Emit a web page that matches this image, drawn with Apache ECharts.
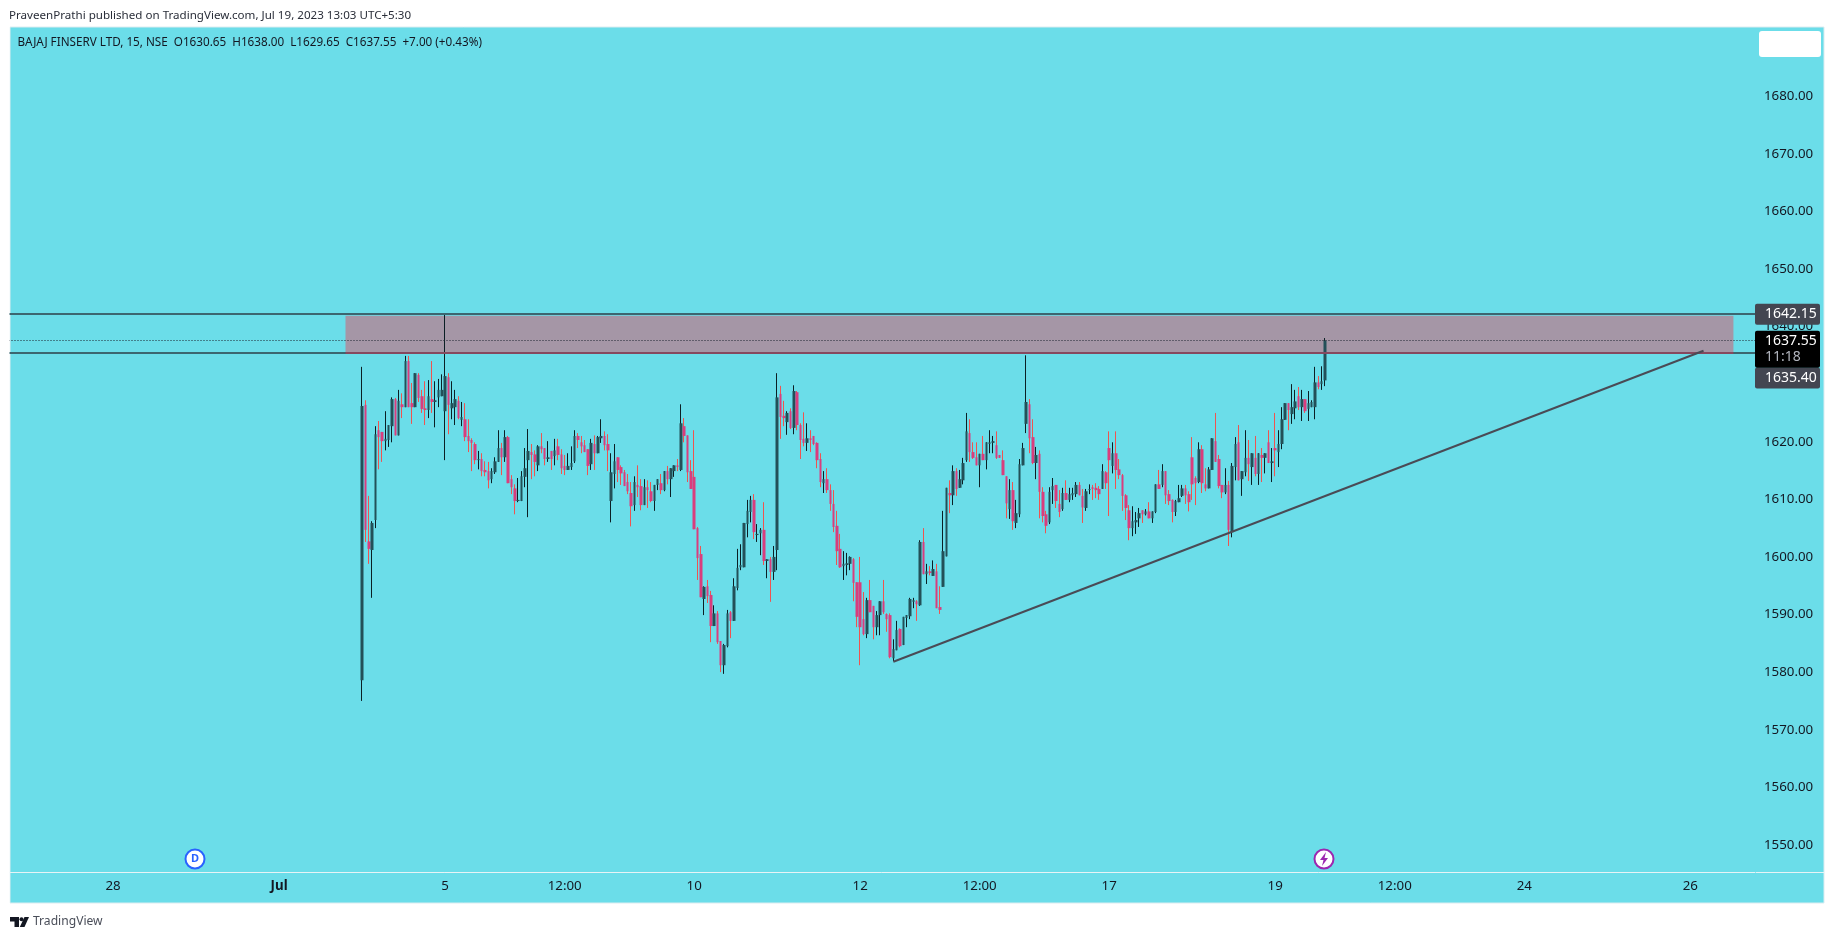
<!DOCTYPE html>
<html>
<head>
<meta charset="utf-8">
<title>BAJAJ FINSERV LTD</title>
<style>
html,body{margin:0;padding:0;background:#fff;}
#mainChart{width:1835px;height:939px;}
</style>
<script src="https://cdn.jsdelivr.net/npm/echarts@6/dist/echarts.min.js"></script>
</head>
<body>
<div id="mainChart"></div>
<script>
var publishText = 'PraveenPrathi published on TradingView.com, Jul 19, 2023 13:03 UTC+5:30';
var legendText = 'BAJAJ FINSERV LTD, 15, NSE  O1630.65  H1638.00  L1629.65  C1637.55  +7.00 (+0.43%)';

// 15 minute bars, 25 per session
var tradingDays = ['Jun 26','Jun 27','Jun 28','Jun 30','Jul 3','Jul 4','Jul 5','Jul 6','Jul 7','Jul 10','Jul 11','Jul 12','Jul 13','Jul 14','Jul 17','Jul 18','Jul 19','Jul 20','Jul 21','Jul 24','Jul 25','Jul 26'];
var firstBar = 'Jul 4 09:15';
var firstCategory = 'Jun 26 14:00';
var lastCategory = 'Jul 26 14:00';

var opens = [
1578.6,1626.4,1602.7,1601.2,1606.4,1622.0,1621.7,1620.1,1620.3,1622.7,
1627.4,1621.1,1626.5,1626.0,1634.0,1626.7,1626.0,1631.6,1627.9,1625.8,
1625.5,1627.4,1626.9,1627.7,1627.9,1625.3,1631.2,1625.8,1626.0,1627.1,
1623.8,1623.9,1621.0,1620.3,1619.6,1616.8,1617.0,1615.1,1614.9,1613.5,
1614.7,1616.5,1618.9,1617.3,1620.8,1613.5,1611.9,1609.7,1609.7,1613.9,
1616.8,1618.2,1617.8,1615.9,1619.2,1618.9,1617.0,1618.4,1617.5,1619.2,
1617.8,1615.8,1615.1,1615.6,1616.6,1621.0,1619.9,1619.4,1618.7,1616.1,
1619.6,1618.0,1620.6,1621.0,1619.6,1609.7,1614.4,1617.3,1615.6,1614.7,
1613.0,1611.1,1609.0,1612.5,1612.3,1609.0,1612.1,1611.4,1609.7,1612.5,
1612.8,1611.6,1614.9,1613.5,1614.9,1615.9,1615.1,1622.7,1621.1,1614.9,
1613.9,1605.0,1600.5,1592.7,1594.9,1593.4,1588.0,1590.2,1585.4,1581.2,
1584.5,1590.4,1588.9,1594.6,1598.2,1598.2,1605.7,1607.8,1609.9,1603.8,
1604.1,1604.7,1599.3,1599.6,1597.4,1601.2,1628.3,1624.5,1623.4,1625.3,
1622.4,1628.6,1622.9,1620.5,1619.8,1620.6,1621.0,1619.8,1617.0,1612.8,
1613.5,1611.6,1609.2,1605.4,1601.4,1598.4,1598.6,1598.8,1599.6,1595.6,
1595.6,1589.2,1586.6,1592.5,1591.5,1587.8,1589.9,1592.3,1590.1,1589.9,
1582.4,1583.8,1587.5,1584.7,1589.4,1589.7,1592.2,1592.3,1591.6,1602.6,
1597.0,1597.5,1596.7,1597.5,1591.3,1594.8,1600.1,1611.1,1610.7,1614.9,
1612.0,1613.3,1616.8,1621.5,1618.2,1617.3,1615.9,1617.9,1616.8,1619.6,
1619.8,1619.4,1617.7,1616.8,1614.0,1608.3,1611.6,1605.9,1607.4,1615.9,
1623.1,1626.5,1620.8,1616.3,1617.9,1611.3,1607.4,1606.0,1611.6,1612.5,
1609.2,1608.3,1611.1,1609.9,1610.7,1610.9,1612.5,1610.6,1608.5,1611.6,
1612.1,1612.0,1611.8,1611.8,1614.7,1618.9,1615.8,1618.0,1615.2,1614.2,
1610.7,1608.1,1605.0,1606.0,1606.7,1608.1,1607.4,1607.9,1606.7,1607.8,
1612.6,1612.5,1614.9,1610.9,1609.9,1607.8,1609.5,1610.6,1611.9,1610.9,
1617.3,1613.7,1613.0,1618.7,1612.6,1611.9,1615.1,1620.1,1617.0,1612.5,
1611.2,1612.5,1604.3,1615.6,1619.9,1613.5,1614.7,1617.2,1615.6,1617.2,
1614.4,1617.7,1617.2,1619.9,1616.3,1618.9,1618.2,1619.6,1623.8,1626.7,
1624.8,1625.8,1627.9,1626.0,1627.4,1625.7,1626.0,1626.0,1630.3,1630.0,
1630.65];

var closes = [
1626.2,1604.7,1601.4,1605.9,1621.3,1620.8,1620.1,1620.5,1622.9,1627.4,
1621.1,1627.1,1626.0,1634.0,1626.0,1626.0,1631.9,1627.6,1625.7,1625.5,
1627.9,1626.9,1627.2,1629.0,1629.0,1631.4,1626.4,1626.7,1627.4,1624.1,
1624.3,1620.8,1620.1,1619.8,1616.8,1617.0,1614.9,1614.7,1613.3,1614.9,
1616.6,1618.9,1617.3,1620.8,1612.8,1612.1,1609.7,1609.9,1614.0,1615.4,
1618.4,1617.7,1616.5,1619.2,1618.7,1617.0,1617.3,1617.0,1618.5,1617.7,
1615.4,1615.1,1615.8,1616.3,1621.0,1620.3,1619.2,1618.2,1615.8,1619.8,
1618.0,1620.8,1621.0,1619.4,1618.5,1614.7,1616.6,1615.1,1614.5,1612.3,
1611.4,1608.8,1613.0,1612.1,1609.0,1612.1,1611.6,1609.7,1612.5,1613.5,
1611.6,1614.9,1613.5,1615.4,1615.9,1615.6,1623.2,1621.0,1614.7,1611.8,
1604.8,1599.8,1593.0,1594.8,1593.2,1588.0,1590.2,1585.2,1581.2,1584.7,
1590.2,1588.9,1594.9,1598.1,1598.6,1605.9,1608.0,1609.9,1604.3,1604.0,
1604.7,1599.3,1599.6,1597.4,1600.0,1627.7,1624.3,1624.1,1625.0,1622.4,
1628.8,1622.9,1620.3,1619.8,1620.6,1620.3,1619.6,1616.8,1613.0,1613.5,
1611.6,1609.2,1605.2,1601.0,1598.2,1598.8,1598.9,1600.0,1595.5,1589.6,
1587.8,1586.6,1592.5,1590.4,1587.8,1589.9,1592.3,1590.4,1589.2,1582.6,
1584.0,1587.3,1584.5,1589.6,1589.9,1592.7,1592.5,1591.8,1602.6,1597.0,
1597.5,1597.2,1597.9,1591.1,1590.8,1601.0,1612.0,1610.7,1614.9,1611.8,
1613.5,1616.3,1621.8,1618.2,1617.2,1615.9,1617.9,1616.8,1619.9,1619.9,
1620.1,1617.2,1617.2,1614.2,1609.3,1611.6,1606.2,1607.6,1616.1,1618.9,
1626.9,1620.6,1616.3,1617.7,1611.3,1607.1,1605.4,1611.3,1612.3,1609.7,
1607.8,1611.1,1609.9,1610.9,1611.1,1612.5,1610.7,1608.6,1611.4,1611.8,
1611.8,1611.6,1610.9,1614.9,1612.8,1616.8,1618.0,1615.1,1614.2,1610.6,
1608.5,1605.0,1606.2,1606.4,1607.6,1607.4,1607.9,1606.7,1607.9,1612.6,
1611.8,1614.9,1610.7,1609.7,1607.8,1609.7,1610.2,1611.9,1610.7,1609.5,
1612.6,1612.8,1618.7,1612.8,1611.9,1615.2,1620.6,1616.5,1612.3,1611.2,
1612.5,1604.7,1615.8,1619.6,1613.3,1614.9,1617.2,1616.1,1618.0,1614.4,
1618.0,1617.2,1618.0,1616.3,1616.6,1618.5,1619.6,1623.9,1626.7,1625.5,
1626.0,1627.0,1626.0,1627.4,1625.3,1626.7,1626.9,1630.3,1629.5,1630.5,
1637.55];

var lows = [
1575.0,1602.6,1598.8,1592.9,1605.0,1615.2,1616.5,1618.5,1619.1,1619.9,
1621.1,1621.1,1624.1,1626.0,1626.0,1623.1,1626.0,1626.9,1625.0,1622.9,
1624.1,1625.0,1622.5,1626.0,1627.9,1616.8,1621.3,1623.9,1622.9,1623.9,
1622.7,1620.1,1618.2,1614.9,1616.1,1615.2,1614.0,1614.0,1611.9,1612.8,
1614.4,1616.5,1614.2,1616.5,1612.8,1610.9,1607.4,1609.5,1609.7,1612.1,
1606.9,1613.5,1614.0,1614.9,1618.0,1615.9,1616.5,1615.1,1615.9,1616.8,
1614.4,1614.2,1615.1,1615.1,1616.3,1618.9,1618.0,1618.2,1614.2,1615.1,
1615.1,1618.0,1619.8,1618.5,1614.9,1606.0,1611.9,1613.0,1612.5,1612.3,
1610.9,1605.3,1608.0,1610.4,1608.1,1609.0,1608.5,1609.5,1608.0,1611.6,
1610.9,1611.4,1612.6,1610.4,1613.9,1614.9,1614.9,1619.9,1613.0,1611.8,
1604.8,1596.0,1593.0,1589.9,1592.0,1585.2,1588.0,1584.9,1580.0,1579.7,
1584.3,1585.9,1588.9,1594.2,1597.7,1598.2,1603.4,1606.0,1603.1,1602.6,
1600.3,1598.6,1596.3,1592.2,1596.0,1597.7,1620.5,1622.7,1621.2,1622.2,
1621.3,1622.0,1617.0,1619.2,1618.4,1618.2,1619.4,1615.4,1612.1,1611.1,
1611.1,1608.0,1604.3,1598.6,1598.1,1596.0,1596.8,1597.7,1592.3,1587.8,
1581.2,1586.4,1585.9,1590.4,1585.7,1586.4,1586.4,1590.1,1587.0,1582.4,
1581.9,1583.8,1584.3,1584.7,1587.8,1589.2,1591.1,1588.9,1591.5,1597.0,
1595.3,1596.8,1596.7,1591.1,1590.1,1594.8,1600.1,1607.6,1609.0,1610.6,
1612.0,1612.6,1616.5,1616.5,1617.0,1615.9,1612.1,1616.8,1615.2,1618.0,
1618.0,1617.0,1617.2,1614.2,1606.7,1606.6,1604.7,1605.0,1606.9,1615.9,
1621.5,1618.0,1616.1,1613.5,1606.7,1606.0,1604.1,1605.7,1609.2,1608.5,
1606.9,1608.0,1609.9,1609.5,1609.9,1610.4,1610.7,1605.9,1608.0,1610.9,
1609.9,1610.2,1609.9,1611.8,1611.8,1607.1,1614.5,1611.8,1613.5,1608.0,
1606.4,1602.9,1603.6,1604.0,1605.2,1605.9,1607.2,1606.7,1605.9,1607.6,
1611.8,1612.1,1609.2,1609.0,1606.0,1607.1,1609.5,1610.4,1609.2,1607.9,
1609.9,1609.0,1612.8,1611.1,1611.4,1611.9,1615.1,1616.5,1611.9,1610.2,
1610.9,1601.9,1603.4,1613.3,1613.3,1610.6,1614.0,1613.2,1612.5,1614.0,
1612.5,1613.0,1614.5,1616.3,1613.0,1614.0,1615.6,1618.7,1623.8,1622.0,
1623.1,1623.9,1625.5,1623.6,1625.0,1623.6,1626.0,1623.9,1629.1,1629.0,
1629.65];

var highs = [
1633.0,1627.2,1610.6,1606.2,1622.7,1623.6,1621.7,1625.3,1622.9,1627.7,
1627.6,1629.0,1628.4,1634.9,1634.9,1630.2,1631.9,1631.9,1629.0,1630.5,
1630.7,1634.0,1630.5,1630.9,1631.7,1642.0,1631.9,1630.5,1629.0,1627.9,
1626.9,1626.7,1623.9,1620.6,1619.9,1618.4,1618.0,1616.6,1616.5,1615.4,
1617.3,1622.0,1619.8,1622.0,1621.0,1614.2,1612.6,1613.7,1614.9,1618.9,
1622.2,1619.6,1618.5,1619.4,1621.5,1618.9,1620.1,1618.4,1620.5,1620.5,
1618.7,1617.7,1618.0,1619.2,1622.0,1621.5,1621.0,1620.3,1618.7,1620.5,
1621.1,1621.0,1623.9,1621.8,1621.3,1618.0,1619.6,1617.3,1615.9,1615.1,
1614.4,1613.0,1614.0,1615.9,1613.5,1613.5,1613.3,1613.0,1612.5,1613.5,
1614.4,1614.9,1615.8,1615.4,1615.9,1617.0,1626.5,1624.1,1621.1,1616.8,
1622.0,1605.2,1601.9,1594.9,1596.0,1594.1,1591.6,1590.6,1585.4,1584.9,
1590.8,1590.6,1596.3,1601.4,1602.2,1605.9,1609.9,1610.6,1610.9,1605.7,
1605.0,1609.5,1599.6,1600.0,1601.9,1631.9,1629.7,1627.1,1625.3,1625.8,
1629.8,1628.8,1623.2,1625.1,1623.2,1622.0,1621.0,1619.9,1618.0,1614.9,
1615.4,1612.6,1611.6,1608.0,1604.0,1601.0,1600.7,1600.1,1599.8,1595.6,
1600.0,1593.9,1592.9,1596.0,1591.5,1590.6,1592.3,1596.0,1590.2,1590.2,
1585.7,1588.9,1587.6,1589.6,1589.9,1592.9,1592.9,1592.5,1602.9,1605.0,
1598.8,1598.4,1599.4,1598.8,1594.9,1608.0,1612.0,1613.3,1615.9,1615.4,
1615.1,1617.2,1625.0,1623.9,1619.9,1619.9,1617.9,1621.0,1619.9,1622.0,
1621.0,1621.8,1617.7,1618.5,1614.0,1613.5,1613.0,1609.9,1617.0,1619.8,
1635.0,1627.4,1623.9,1619.1,1618.5,1612.1,1608.0,1612.1,1613.7,1612.5,
1611.6,1612.0,1613.3,1612.0,1612.0,1613.0,1613.0,1611.8,1611.8,1612.6,
1612.5,1612.8,1612.3,1616.1,1614.9,1621.8,1619.9,1621.8,1617.0,1614.4,
1610.9,1609.0,1608.8,1607.8,1608.5,1608.1,1608.3,1609.5,1607.9,1612.6,
1615.1,1616.1,1614.9,1611.6,1610.0,1609.9,1612.5,1612.5,1612.5,1611.4,
1620.8,1614.0,1619.9,1619.4,1615.4,1615.6,1620.6,1625.0,1617.7,1612.5,
1615.4,1613.2,1616.3,1620.8,1622.9,1614.9,1622.0,1620.3,1618.0,1621.0,
1618.0,1618.9,1618.0,1622.0,1618.9,1625.0,1622.0,1626.0,1626.7,1626.7,
1630.0,1629.0,1629.5,1629.0,1627.4,1628.8,1627.2,1633.0,1631.4,1633.1,
1638.0];

var yTicks = [1550,1560,1570,1580,1590,1600,1610,1620,1630,1640,1650,1660,1670,1680];
var xTickCategories = ['Jun 28 09:15','Jul 3 09:15','Jul 5 09:15','Jul 6 12:00','Jul 10 09:15','Jul 12 09:15','Jul 13 12:00','Jul 17 09:15','Jul 19 09:15','Jul 20 12:00','Jul 24 09:15','Jul 26 09:15'];
var xTickLabels = ['28','Jul','5','12:00','10','12','12:00','17','19','12:00','24','26'];

var zoneTop = 1642.15;
var zoneFillTop = 1641.85;
var zoneBottom = 1635.40;
var lastPrice = 1637.55;
var countdown = '11:18';
var zoneStart = 'Jul 3 14:15';
var zoneEnd = 'Jul 26 12:30';
var trendStart = ['Jul 12 11:45', 1581.8];
var trendEnd = ['Jul 26 10:15', 1635.8];

var fontName = '"Noto Sans", sans-serif';

function buildCategories() {
    var all = [];
    for (var d = 0; d < tradingDays.length; d++) {
        for (var s = 0; s < 25; s++) {
            var mins = 9 * 60 + 15 + s * 15;
            var hh = Math.floor(mins / 60);
            var mm = mins % 60;
            all.push(tradingDays[d] + ' ' + (hh < 10 ? '0' + hh : hh) + ':' + (mm < 10 ? '0' + mm : mm));
        }
    }
    return all.slice(all.indexOf(firstCategory), all.indexOf(lastCategory) + 1);
}

var categories = buildCategories();
var wickData = [];
var bodyData = [];
var firstIdx = categories.indexOf(firstBar);
for (var i = 0; i < categories.length; i++) {
    var k = i - firstIdx;
    if (k >= 0 && k < opens.length) {
        wickData.push([opens[k], closes[k], lows[k], highs[k]]);
        bodyData.push([opens[k], closes[k], Math.min(opens[k], closes[k]), Math.max(opens[k], closes[k])]);
    } else {
        wickData.push(['-', '-', '-', '-']);
        bodyData.push(['-', '-', '-', '-']);
    }
}

var option = {
    animation: false,
    backgroundColor: '#fff',
    title: [
        {text: publishText, left: 9, top: 9.5, padding: 0, textStyle: {fontFamily: fontName, fontSize: 11.6, fontWeight: 'normal', color: '#2a2e39'}},
        {text: legendText, left: 17.5, top: 36.5, padding: 0, textStyle: {fontFamily: fontName, fontSize: 11.7, fontWeight: 'normal', color: '#131722'}},
        {text: 'TradingView', left: 33, top: 915.5, padding: 0, textStyle: {fontFamily: fontName, fontSize: 12.1, fontWeight: 'normal', color: '#4a4e59'}}
    ],
    graphic: [
        {type: 'rect', z: -10, silent: true, shape: {x: 10, y: 27, width: 1814, height: 876}, style: {fill: '#6bdde9', stroke: '#dcecf0', lineWidth: 1}},
        // white margin left of the panel, the grid starts a bit before it
        {type: 'rect', z: 20, silent: true, shape: {x: 0, y: 27, width: 9.5, height: 876}, style: {fill: '#fff'}},
        {type: 'rect', z: 6, silent: true, shape: {x: 1756, y: 872, width: 68, height: 1}, style: {fill: '#e8f3f6'}},
        {type: 'rect', z: 6, silent: true, shape: {x: 1759, y: 31, width: 62, height: 26, r: 3}, style: {fill: '#fff'}},
        // dividend marker
        {type: 'circle', z: 6, silent: true, shape: {cx: 195, cy: 859, r: 9.5}, style: {fill: '#fff', stroke: '#2962ff', lineWidth: 2}},
        {type: 'text', z: 7, silent: true, style: {x: 195, y: 859, text: 'D', fill: '#2962ff', font: 'bold 11px ' + fontName, textAlign: 'center', textVerticalAlign: 'middle'}},
        // earnings marker
        {type: 'circle', z: 6, silent: true, shape: {cx: 1324, cy: 859, r: 9.5}, style: {fill: '#fff', stroke: '#9c27b0', lineWidth: 2}},
        {type: 'polygon', z: 7, silent: true, shape: {points: [[1326, 852], [1320, 860], [1323.5, 860], [1322, 866], [1328, 858], [1324.5, 858]]}, style: {fill: '#9c27b0'}},
        // tradingview logo
        {type: 'polygon', z: 6, silent: true, shape: {points: [[10, 917], [19, 917], [19, 927], [14.5, 927], [14.5, 921.5], [10, 921.5]]}, style: {fill: '#131722'}},
        {type: 'circle', z: 6, silent: true, shape: {cx: 21.5, cy: 919.2, r: 2}, style: {fill: '#131722'}},
        {type: 'polygon', z: 6, silent: true, shape: {points: [[24.5, 917], [29, 917], [24.5, 927], [19.8, 927]]}, style: {fill: '#131722'}}
    ],
    grid: {left: 8.5, right: 80, top: 27, height: 845, containLabel: false},
    xAxis: {
        type: 'category',
        data: categories,
        boundaryGap: true,
        axisLine: {lineStyle: {color: '#e8f3f6', width: 1}},
        axisTick: {show: false},
        splitLine: {show: false},
        axisLabel: {
            interval: function (index, value) {
                return xTickCategories.indexOf(value) >= 0;
            },
            formatter: function (value) {
                var label = xTickLabels[xTickCategories.indexOf(value)];
                return label === 'Jul' ? '{b|Jul}' : label;
            },
            rich: {b: {fontFamily: fontName, fontSize: 13.3, fontWeight: 'bold', color: '#131722'}},
            fontFamily: fontName,
            fontSize: 13.3,
            color: '#131722',
            margin: 8
        }
    },
    yAxis: {
        type: 'value',
        position: 'right',
        min: 1545.3,
        max: 1692,
        axisLine: {show: false},
        axisTick: {show: false},
        splitLine: {show: false},
        axisLabel: {
            customValues: yTicks,
            formatter: function (v) {
                return v.toFixed(2);
            },
            fontFamily: fontName,
            fontSize: 13.3,
            color: '#131722',
            margin: 9
        }
    },
    series: [
        {
            name: 'wicks',
            type: 'candlestick',
            z: 2,
            barWidth: 0.01,
            data: wickData,
            itemStyle: {color: '#0b1f24', color0: '#ef5350', borderColor: '#0b1f24', borderColor0: '#ef5350', borderWidth: 1},
            markArea: {
                silent: true,
                z: 1,
                itemStyle: {color: 'rgba(252,46,65,0.4)'},
                data: [[{xAxis: zoneStart, yAxis: zoneFillTop}, {xAxis: zoneEnd, yAxis: zoneBottom}]]
            },
            markLine: {
                silent: true,
                z: 5,
                symbol: 'none',
                animation: false,
                precision: 2,
                lineStyle: {color: '#3c6670', width: 2, type: 'solid'},
                label: {show: false},
                data: [
                    {
                        yAxis: zoneTop,
                        label: {
                            show: true, position: 'end', distance: 0,
                            formatter: '1642.15',
                            backgroundColor: '#434651', borderRadius: 2,
                            width: 55, padding: [3, 0, 3, 10], lineHeight: 15, align: 'left',
                            fontFamily: fontName, fontSize: 14, color: '#fff'
                        }
                    },
                    {
                        yAxis: zoneBottom,
                        label: {
                            show: true, position: 'end', distance: 0, offset: [0, 25],
                            formatter: '1635.40',
                            backgroundColor: '#434651', borderRadius: 2,
                            width: 55, padding: [3, 0, 3, 10], lineHeight: 15, align: 'left',
                            fontFamily: fontName, fontSize: 14, color: '#fff'
                        }
                    },
                    {
                        yAxis: lastPrice,
                        lineStyle: {color: '#1d2430', width: 1, type: [1, 2]},
                        label: {
                            show: true, position: 'end', distance: 0, offset: [0, 8.5],
                            formatter: '{a|1637.55}\n{c|' + countdown + '}',
                            backgroundColor: '#000', borderRadius: 2,
                            width: 55, padding: [2, 0, 3, 10], align: 'left',
                            rich: {
                                a: {fontFamily: fontName, fontSize: 14, color: '#fff', lineHeight: 16},
                                c: {fontFamily: fontName, fontSize: 14, color: '#b2b5be', lineHeight: 16}
                            }
                        }
                    },
                    [
                        {coord: [zoneStart, zoneBottom], lineStyle: {color: '#86495f', width: 2, type: 'solid'}},
                        {coord: [zoneEnd, zoneBottom]}
                    ],
                    [
                        {coord: trendStart, lineStyle: {color: '#4a4a55', width: 2, type: 'solid'}},
                        {coord: trendEnd}
                    ]
                ]
            }
        },
        {
            name: 'bodies',
            type: 'candlestick',
            z: 3,
            barWidth: 3,
            data: bodyData,
            itemStyle: {color: '#235058', color0: '#d93d7d', borderColor: '#235058', borderColor0: '#d93d7d', borderWidth: 0}
        }
    ]
};

var summaryChart = echarts.init(document.getElementById('mainChart'), null, {renderer: 'canvas'});
summaryChart.setOption(option);
window.onresize = function () {
    summaryChart.resize();
};
</script>
</body>
</html>
